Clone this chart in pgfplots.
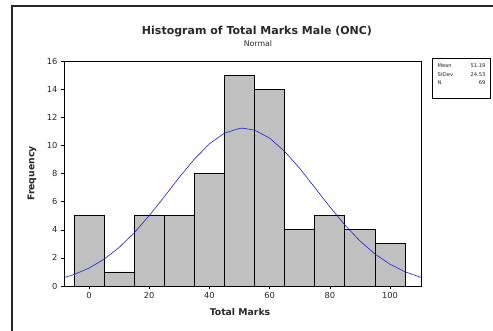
\documentclass[border=0pt]{standalone}
\usepackage{pgfplots}
\pgfplotsset{compat=1.18}
\usepackage{fontspec}
\setmainfont{DejaVu Sans}
\definecolor{barfill}{RGB}{192,192,192}
\definecolor{curveblue}{RGB}{30,30,210}
\definecolor{txt}{RGB}{40,40,40}
\begin{document}
\begin{tikzpicture}
\useasboundingbox (0pt,0pt) rectangle (493pt,330pt);
\fill[white] (0pt,0pt) rectangle (493pt,330pt);
\draw[line width=1.3pt, black!85] (12pt,-5pt) -- (12pt,324pt) -- (500pt,324pt);
\node[font=\bfseries\fontsize{11}{13}\selectfont, text=txt] at (257pt,298pt) {Histogram of Total Marks Male (ONC)};
\node[font=\fontsize{7.8}{9}\selectfont, text=txt] at (258pt,286.5pt) {Normal};
\begin{axis}[
  at={(64pt,44pt)}, anchor=south west,
  scale only axis, width=357pt, height=225pt,
  xmin=-8.3, xmax=110.3, ymin=0, ymax=16,
  xtick={0,20,40,60,80,100}, ytick={0,2,...,16},
  xtick pos=bottom, ytick pos=left,
  tick align=outside, major tick length=3pt,
  tick style={black, line width=0.5pt},
  axis line style={black, line width=0.8pt},
  ticklabel style={font=\fontsize{8.3}{9}\selectfont, text=txt},
  /pgf/number format/assume math mode=true,
  xlabel={\bfseries Total Marks}, ylabel={\bfseries Frequency},
  label style={font=\fontsize{9.3}{10}\selectfont, text=txt},
  xlabel style={at={(axis description cs:0.493,-0.1156)}, anchor=center},
  ylabel style={at={(axis description cs:-0.09,0.5)}, anchor=center},
]
\addplot[ybar interval, fill=barfill, draw=black, line width=0.7pt] coordinates {
(-5,5) (5,1) (15,5) (25,5) (35,8) (45,15) (55,14) (65,4) (75,5) (85,4) (95,3) (105,3)};
\addplot[curveblue, line width=0.6pt, no marks] coordinates {
(-8.3,0.592) (-5,0.813) (0,1.271) (5,1.905) (10,2.740) (15,3.779) (20,5.000) (25,6.345) (30,7.726) (35,9.024) (40,10.111) (45,10.869) (50,11.207) (51.19,11.22) (55,11.086) (60,10.519) (65,9.575) (70,8.362) (75,7.005) (80,5.629) (85,4.340) (90,3.209) (95,2.276) (100,1.549) (105,1.012) (110,0.634) (110.3,0.616)};
\end{axis}
\draw[black, line width=0.6pt] (432pt,272pt) rectangle (490pt,232pt);
\begin{scope}[font=\fontsize{5.2}{6}\selectfont, text=txt]
\node[anchor=west] at (434pt,264pt) {Mean};
\node[anchor=west] at (434pt,255.5pt) {StDev};
\node[anchor=west] at (434pt,247pt) {N};
\node[anchor=east] at (489pt,264pt) {51.19};
\node[anchor=east] at (489pt,255.5pt) {24.53};
\node[anchor=east] at (489pt,247pt) {69};
\end{scope}
\end{tikzpicture}
\end{document}
